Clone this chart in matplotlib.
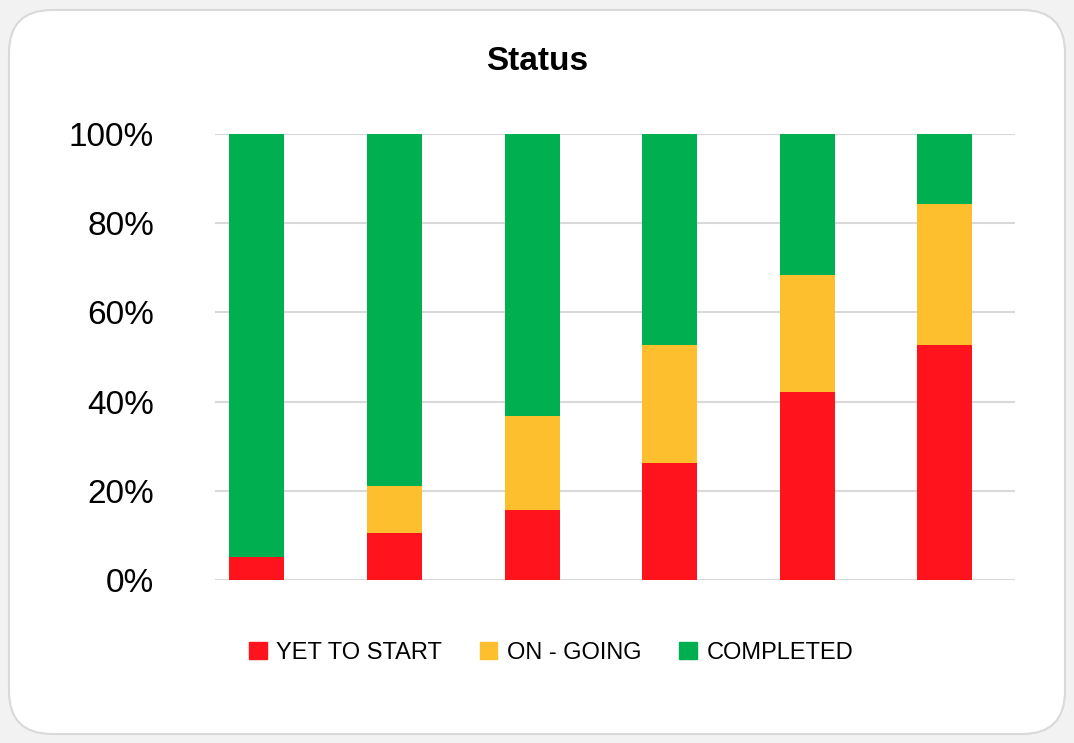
import matplotlib.pyplot as plt
import numpy as np
from matplotlib.patches import FancyBboxPatch, Patch

# task counts per bar (out of 19)
yet_to_start = [1, 2, 3, 5, 8, 10]
on_going = [0, 2, 4, 5, 5, 6]
completed = [18, 15, 12, 9, 6, 3]
series_names = ["YET TO START", "ON - GOING", "COMPLETED"]
colors = ["#ff141e", "#fdbf2d", "#00b050"]
yticks = [0, 20, 40, 60, 80, 100]

counts = np.array([yet_to_start, on_going, completed], dtype=float)
pct = counts / counts.sum(axis=0) * 100
x = np.arange(pct.shape[1])

plt.rcParams['font.family'] = ['Liberation Sans', 'DejaVu Sans']

fig = plt.figure(figsize=(10.74, 7.43), dpi=100)
fig.patch.set_facecolor("#f2f2f2")

# rounded card behind the chart
card = FancyBboxPatch((9 / 1074, 9 / 743), 1056 / 1074, 724 / 743,
                      boxstyle="round,pad=0,rounding_size=0.04",
                      transform=fig.transFigure, facecolor="white",
                      edgecolor="#d9d9d9", linewidth=1.5, zorder=-5,
                      mutation_aspect=1074 / 743)
fig.patches.append(card)

ax = fig.add_axes([215 / 1074, 1 - 580 / 743, 800 / 1074, 446 / 743])
ax.set_facecolor("none")
ax.set_zorder(2)

bottom = np.zeros(len(x))
for vals, name, c in zip(pct, series_names, colors):
    ax.bar(x, vals, width=0.4, bottom=bottom, color=c, label=name, zorder=3)
    bottom += vals

ax.set_xlim(-0.305, 5.51)
ax.set_ylim(0, 100)
ax.set_yticks(yticks)
ax.set_yticklabels([f"{t}%" for t in yticks], fontsize=24)
ax.set_xticks([])
ax.yaxis.grid(True, color="#d9d9d9", linewidth=1.5, zorder=0)
ax.tick_params(axis="y", length=0, pad=44)
for s in ax.spines.values():
    s.set_visible(False)

fig.text(0.5, 1 - 62 / 743, "Status", ha="center", va="center",
         fontsize=24, fontweight="bold")

handles = [Patch(color=c) for c in colors]
fig.legend(handles, series_names, loc="center", bbox_to_anchor=(551 / 1074, 1 - 653 / 743),
           ncol=3, frameon=False, fontsize=17, handlelength=0.75, handleheight=0.75,
           handletextpad=0.4, columnspacing=1.6)

fig.savefig("out.png", dpi=100, facecolor=fig.get_facecolor())
